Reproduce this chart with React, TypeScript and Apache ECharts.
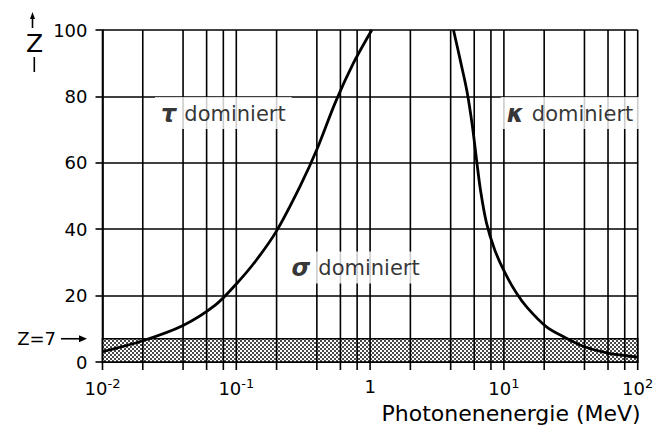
import React, { useEffect, useRef } from 'react';
import * as echarts from 'echarts';

// vertical grid lines (MeV): 1,2,4,6,8 per decade
const xGridValues = [0.01, 0.02, 0.04, 0.06, 0.08, 0.1, 0.2, 0.4, 0.6, 0.8, 1, 2, 4, 6, 8, 10, 20, 40, 60, 80, 100];
const yMin = 0;
const yMax = 100;
const yInterval = 20;
const bandZ = 7;

// boundary tau / sigma
const tauSigmaBoundary: [number, number][] = [
  [0.01, 3.1], [0.02, 6.4], [0.04, 11], [0.07, 17.2], [0.1, 23.5], [0.14, 30.5], [0.2, 39.5],
  [0.3, 53], [0.4, 64], [0.55, 78.2], [0.75, 90], [1.03, 100],
];

// boundary sigma / kappa
const sigmaKappaBoundary: [number, number][] = [
  [4.2, 100], [4.75, 90.4], [5.3, 81.5], [5.8, 71.4], [6.25, 60.8], [6.7, 51.5], [7.4, 42], [8.5, 34],
  [10, 27.5], [12.3, 21], [15, 16.3], [20.8, 10.6], [28.6, 7.4], [40, 4.6], [60, 2.7], [100, 1.5],
];

const regionSymbols = ['τ', 'σ', 'κ'];
const regionX = [0.08, 0.78, 31.2];
const regionY = [75, 28.5, 75];
const regionText = 'dominiert';

const xAxisName = 'Photonenenergie (MeV)';
const yAxisName = 'Z';
const bandLabel = 'Z=7';

const FONT = 'DejaVu Sans';

export default function App() {
  const ref = useRef<HTMLDivElement>(null);

  useEffect(() => {
    if (!ref.current) return;
    const chart = echarts.init(ref.current, undefined, { renderer: 'svg' });

    const c = document.createElement('canvas');
    c.width = 4;
    c.height = 4;
    const ctx = c.getContext('2d')!;
    ctx.fillStyle = '#ffffff';
    ctx.fillRect(0, 0, 4, 4);
    ctx.fillStyle = '#4a4a4a';
    ctx.fillRect(0, 0, 2, 2);
    ctx.fillRect(2, 2, 2, 2);

    const option: any = {
      animation: false,
      backgroundColor: '#ffffff',
      textStyle: { fontFamily: FONT, color: '#000' },
      grid: { left: 102.5, right: 19.3, top: 30, bottom: 66, containLabel: false, outerBoundsMode: 'none' },
      xAxis: {
        type: 'log',
        logBase: 10,
        min: 0.01,
        max: 100,
        axisLine: { show: true, lineStyle: { color: '#000', width: 1.6 } },
        axisTick: { show: false },
        splitLine: { show: false },
        minorTick: { show: false },
        axisLabel: {
          margin: 15,
          color: '#000',
          formatter: (v: number) => {
            const e = Math.round(Math.log10(v));
            if (e === 0) return '{b|1}';
            return '{b|10}{s|' + (e < 0 ? '-' + -e : String(e)) + '}';
          },
          rich: {
            b: { fontSize: 18, fontFamily: FONT, color: '#000' },
            s: { fontSize: 13, fontFamily: FONT, color: '#000', padding: [0, 0, 10, 0] },
          },
        },
      },
      yAxis: {
        type: 'value',
        min: yMin,
        max: yMax,
        interval: yInterval,
        axisLine: { show: true, lineStyle: { color: '#000', width: 1.6 } },
        axisTick: { show: true, length: 7, lineStyle: { color: '#000', width: 1.6 } },
        splitLine: { show: true, lineStyle: { color: '#000', width: 1.6 } },
        axisLabel: { margin: 15, fontSize: 18, color: '#000', fontFamily: FONT },
      },
      series: [
        {
          type: 'custom',
          name: 'band',
          z: 1,
          silent: true,
          clip: false,
          data: [[0.01, 0, 100, bandZ]],
          encode: { x: [0, 2], y: [1, 3] },
          renderItem: (params: any, api: any) => {
            const p0 = api.coord([api.value(0), api.value(1)]);
            const p1 = api.coord([api.value(2), api.value(3)]);
            return {
              type: 'rect',
              shape: { x: p0[0], y: p1[1], width: p1[0] - p0[0], height: p0[1] - p1[1] },
              style: {
                fill: { image: c, repeat: 'repeat' },
                stroke: '#000',
                lineWidth: 1.6,
              },
            };
          },
        },
        {
          type: 'custom',
          name: 'vgrid',
          z: 2,
          silent: true,
          clip: false,
          data: xGridValues.map((v) => [v, yMin]),
          encode: { x: 0, y: 1 },
          renderItem: (params: any, api: any) => {
            const x = api.value(0);
            const pb = api.coord([x, yMin]);
            const pt = api.coord([x, yMax]);
            return {
              type: 'line',
              shape: { x1: pb[0], y1: pb[1] + 8, x2: pt[0], y2: pt[1] },
              style: { stroke: '#000', lineWidth: 1.6 },
            };
          },
        },
        {
          type: 'line',
          name: 'tau-sigma',
          z: 3,
          data: tauSigmaBoundary,
          showSymbol: false,
          symbol: 'none',
          smooth: 0.3,
          lineStyle: { color: '#000', width: 2.8 },
        },
        {
          type: 'line',
          name: 'sigma-kappa',
          z: 3,
          data: sigmaKappaBoundary,
          showSymbol: false,
          symbol: 'none',
          smooth: 0.3,
          lineStyle: { color: '#000', width: 2.8 },
        },
        {
          type: 'scatter',
          name: 'regions',
          z: 4,
          silent: true,
          symbolSize: 1,
          itemStyle: { color: 'transparent' },
          data: regionSymbols.map((s, i) => ({ value: [regionX[i], regionY[i]], sym: s })),
          label: {
            show: true,
            position: 'inside',
            backgroundColor: '#ffffff',
            color: '#000',
            padding: [5, 6, 3, 6],
            formatter: (p: any) => '{g|' + p.data.sym + '}{t|' + regionText + '}',
            rich: {
              g: { fontSize: 24, fontWeight: 'bold', fontStyle: 'italic', fontFamily: FONT, color: '#000', padding: [0, 8, 0, 0] },
              t: { fontSize: 21, fontFamily: FONT, color: '#000' },
            },
          },
        },
      ],
    };

    chart.setOption(option);

    const y7 = chart.convertToPixel({ yAxisIndex: 0 }, bandZ) as number;
    const y0 = chart.convertToPixel({ yAxisIndex: 0 }, yMin) as number;
    const xEnd = chart.convertToPixel({ xAxisIndex: 0 }, 100) as number;
    chart.setOption({
      graphic: [
        {
          type: 'text',
          style: { text: xAxisName, x: xEnd + 3, y: y0 + 51, align: 'right', verticalAlign: 'middle', fontSize: 22, fontFamily: FONT, fill: '#000' },
        },
        {
          type: 'text',
          style: { text: bandLabel, x: 56, y: y7, align: 'right', verticalAlign: 'middle', fontSize: 18, fontFamily: FONT, fill: '#000' },
        },
        { type: 'line', shape: { x1: 61, y1: y7, x2: 82, y2: y7 }, style: { stroke: '#000', lineWidth: 1.6 } },
        { type: 'polygon', shape: { points: [[87, y7], [79, y7 - 3.5], [79, y7 + 3.5]] }, style: { fill: '#000' } },
        { type: 'line', shape: { x1: 32.5, y1: 28, x2: 32.5, y2: 17 }, style: { stroke: '#000', lineWidth: 1.6 } },
        { type: 'polygon', shape: { points: [[32.5, 12], [30, 19], [35, 19]] }, style: { fill: '#000' } },
        {
          type: 'text',
          style: { text: yAxisName, x: 34.5, y: 43, align: 'center', verticalAlign: 'middle', fontSize: 25, fontFamily: FONT, fill: '#000' },
        },
        { type: 'line', shape: { x1: 34.3, y1: 57, x2: 34.3, y2: 72 }, style: { stroke: '#000', lineWidth: 1.6 } },
      ],
    });

    return () => chart.dispose();
  }, []);

  return <div ref={ref} style={{ position: 'fixed', left: 0, top: 0, width: 657, height: 428 }} />;
}
